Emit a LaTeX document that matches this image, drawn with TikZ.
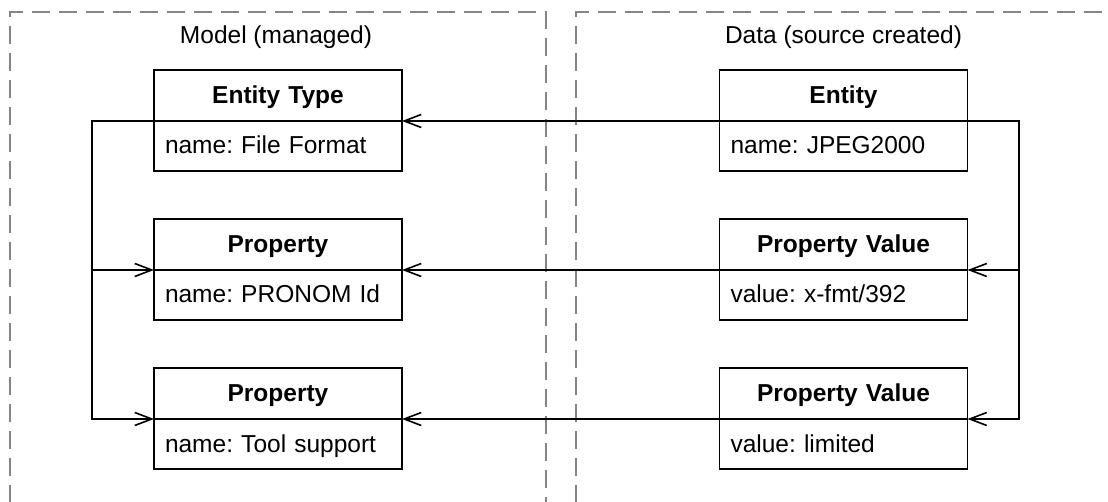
\documentclass[tikz,border=0pt]{standalone}
\usepackage{fontspec}
\setmainfont{Liberation Sans}
\usetikzlibrary{arrows.meta}
\frenchspacing

\begin{document}
\begin{tikzpicture}[
    x=1pt, y=-1pt,
    font=\fontsize{24.5}{29}\selectfont,
    frame/.style={draw=black!48, line width=1.6pt, dash pattern=on 18pt off 9pt},
    cell/.style={draw, line width=1.6pt, text width=226pt, inner xsep=11pt, inner ysep=0pt,
                 outer sep=0pt, text height=21pt, text depth=5pt},
    head/.style={cell, align=center, minimum height=51pt,
                 font=\fontsize{24.5}{29}\selectfont\bfseries},
    body/.style={cell, align=left, minimum height=50pt, anchor=north},
    title/.style={inner sep=0pt, text height=21pt, text depth=5pt},
    link/.style={line width=1.6pt, line join=miter, -{Straight Barb[length=17pt, width=13pt, line width=1.6pt]}}
  ]
  \useasboundingbox (0,0) rectangle (1108,502);
  \clip (0,0) rectangle (1108,502);
  \fill[white] (0,0) rectangle (1108,502);

  % the two swim lanes, open at the bottom and on the far right
  \draw[frame] (10,530) -- (10,12) -- (546,12) -- (546,530);
  \draw[frame] (576,530) -- (576,12) -- (1130,12);

  \node[title] (tmodel) at (276,35.5) {Model (managed)};
  \node[title] (tdata) at (843.5,35.5) {Data (source created)};

  % model side
  \node[head] (et) at (278,95.5) {Entity Type};
  \node[body] (etb) at (et.south) {name: File Format};
  \node[head] (p1) at (278,244.5) {Property};
  \node[body] (p1b) at (p1.south) {name: PRONOM Id};
  \node[head] (p2) at (278,393.5) {Property};
  \node[body] (p2b) at (p2.south) {name: Tool support};

  % data side
  \node[head] (en) at (843.5,95.5) {Entity};
  \node[body] (enb) at (en.south) {name: JPEG2000};
  \node[head] (v1) at (843.5,244.5) {Property Value};
  \node[body] (v1b) at (v1.south) {value: x-fmt/392};
  \node[head] (v2) at (843.5,393.5) {Property Value};
  \node[body] (v2b) at (v2.south) {value: limited};

  % instance-of links
  \draw[link] (en.south west) -- (et.south east);
  \draw[link] (v1.south west) -- (p1.south east);
  \draw[link] (v2.south west) -- (p2.south east);

  % entity type owns its properties
  \coordinate (lbus) at (92,121);
  \draw[link] (et.south west) -- (et.south west -| lbus) |- (p1.south west);
  \draw[link] (et.south west) -- (et.south west -| lbus) |- (p2.south west);

  % entity owns its property values
  \coordinate (rbus) at (1019,121);
  \draw[link] (en.south east) -- (en.south east -| rbus) |- (v1.south east);
  \draw[link] (en.south east) -- (en.south east -| rbus) |- (v2.south east);
\end{tikzpicture}
\end{document}
